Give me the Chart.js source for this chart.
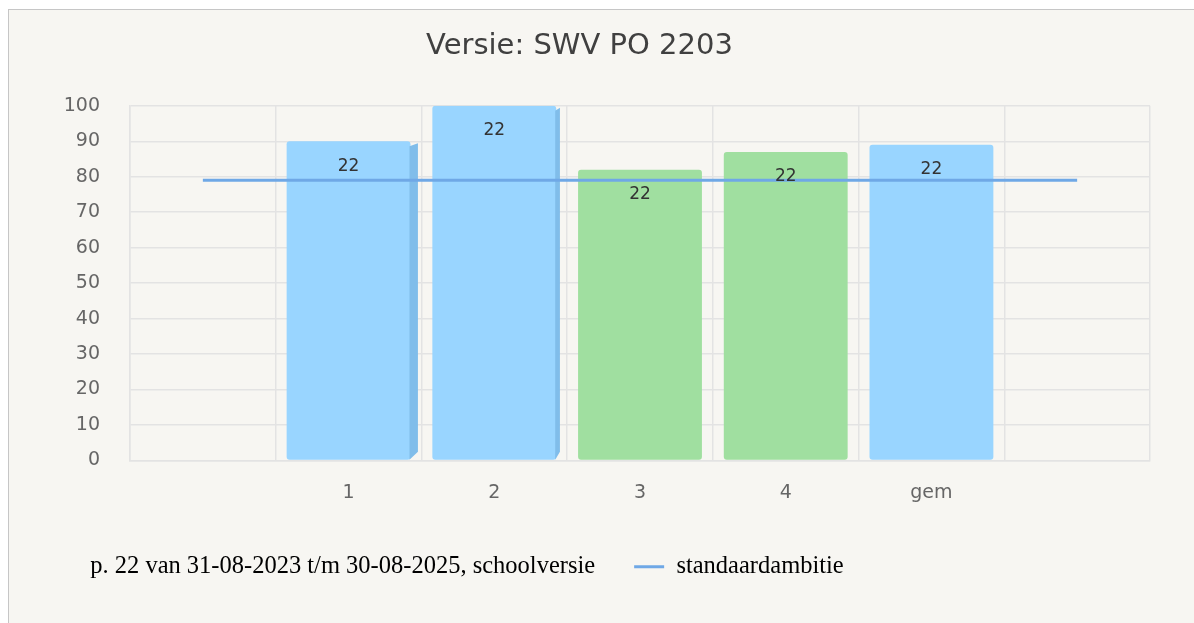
<!DOCTYPE html>
<html>
<head>
<meta charset="utf-8">
<script src="https://cdn.jsdelivr.net/npm/chart.js@4/dist/chart.umd.min.js"></script>
<style>
  html, body { margin: 0; padding: 0; background: #ffffff; }
  #frame {
    position: absolute; left: 8px; top: 9px;
    width: 1186px; height: 614px;
    border-left: 1px solid #c6c6c6; border-top: 1px solid #c6c6c6;
    background: #f7f6f2;
  }
  #wrap { position: absolute; left: 0; top: 0; width: 1185px; height: 613px; }
</style>
</head>
<body>
<div id="frame"><div id="wrap"><canvas id="chart"></canvas></div></div>
<script>
// categories (empty slots left and right, as in the original)
const categories = ['', '1', '2', '3', '4', 'gem', ''];
// bar heights (percentage)
const barValues = [null, 90, 100, 82, 87, 89, null];
// numbers printed inside the bars
const barCounts = [null, 22, 22, 22, 22, 22, null];
// standaardambitie line
const ambitionValues = [79, 79, 79, 79, 79, 79, 79];
const yTicks = [0, 10, 20, 30, 40, 50, 60, 70, 80, 90, 100];

const barLabel = 'p. 22 van 31-08-2023 t/m 30-08-2025, schoolversie';
const lineLabel = 'standaardambitie';

const blue = '#99d5ff';
const blueSide = '#80bdea';
const green = '#a0dfa0';
const lineBlue = '#6fa8e6';

// darker right side for the bars left of the middle (fake 3D)
const sideFaces = {
    id: 'sideFaces',
    afterDatasetDraw(chart, args) {
        if (args.index !== 0) return;
        const ctx = chart.ctx;
        const mid = (chart.chartArea.left + chart.chartArea.right) / 2;
        const half = (chart.chartArea.right - chart.chartArea.left) / 2;
        args.meta.data.forEach((bar, i) => {
            if (barValues[i] == null || bar.x > mid - 60) return;
            const w = (mid - bar.x) / half * 13;
            const r = bar.x + bar.width / 2;
            ctx.save();
            ctx.fillStyle = blueSide;
            ctx.beginPath();
            ctx.moveTo(r - 1, bar.y + 5);
            ctx.lineTo(r + w, bar.y + 2);
            ctx.lineTo(r + w, bar.base - 8);
            ctx.lineTo(r - 1, bar.base);
            ctx.closePath();
            ctx.fill();
            ctx.restore();
        });
    }
};

const countLabels = {
    id: 'countLabels',
    afterDatasetsDraw(chart) {
        const ctx = chart.ctx;
        const meta = chart.getDatasetMeta(0);
        ctx.save();
        ctx.font = '17px "DejaVu Sans"';
        ctx.fillStyle = '#333333';
        ctx.textAlign = 'center';
        ctx.textBaseline = 'middle';
        meta.data.forEach((bar, i) => {
            if (barCounts[i] == null) return;
            ctx.fillText(String(barCounts[i]), bar.x, bar.y + 25);
        });
        ctx.restore();
    }
};

const ctx = document.getElementById('chart').getContext('2d');
new Chart(ctx, {
    data: {
        labels: categories,
        datasets: [
            {
                type: 'bar',
                label: barLabel,
                data: barValues,
                backgroundColor: [blue, blue, blue, green, green, blue, blue],
                borderRadius: 3,
                borderSkipped: false,
                categoryPercentage: 1,
                barPercentage: 0.85,
                order: 2
            },
            {
                type: 'line',
                label: lineLabel,
                data: ambitionValues,
                borderColor: lineBlue,
                borderWidth: 3,
                pointRadius: 0,
                fill: false,
                order: 1
            }
        ]
    },
    options: {
        responsive: true,
        maintainAspectRatio: false,
        animation: false,
        layout: { padding: { left: 0, right: 44, top: 0, bottom: 34 } },
        plugins: {
            title: {
                display: true,
                text: 'Versie: SWV PO 2203',
                color: '#404040',
                font: { family: 'DejaVu Sans', size: 29, weight: 'normal' },
                padding: { top: 19, bottom: 42 }
            },
            legend: {
                position: 'bottom',
                align: 'start',
                labels: {
                    usePointStyle: true,
                    pointStyleWidth: 30,
                    padding: 39,
                    color: '#222222',
                    font: { family: 'Liberation Serif', size: 24.5 },
                    generateLabels: () => [
                        { text: barLabel, pointStyle: 'line', strokeStyle: 'rgba(0,0,0,0)', fillStyle: 'rgba(0,0,0,0)', lineWidth: 0, datasetIndex: 0 },
                        { text: lineLabel, pointStyle: 'line', strokeStyle: lineBlue, fillStyle: lineBlue, lineWidth: 3, datasetIndex: 1 }
                    ]
                }
            },
            tooltip: { enabled: false }
        },
        scales: {
            x: {
                afterFit: (axis) => { axis.height = 55; },
                grid: { color: '#e3e3e3', lineWidth: 1.5, drawTicks: false, offset: true },
                border: { color: '#e3e3e3', width: 1.5 },
                ticks: {
                    color: '#666666',
                    font: { family: 'DejaVu Sans', size: 19 },
                    padding: 21
                }
            },
            y: {
                min: 0,
                max: 100,
                afterBuildTicks: (axis) => { axis.ticks = yTicks.map(v => ({ value: v })); },
                afterFit: (axis) => { axis.width = 121; },
                grid: { color: '#e3e3e3', lineWidth: 1.5, drawTicks: false },
                border: { color: '#e3e3e3', width: 1.5 },
                ticks: {
                    color: '#666666',
                    font: { family: 'DejaVu Sans', size: 19 },
                    padding: 30
                }
            }
        }
    },
    plugins: [sideFaces, countLabels]
});
</script>
</body>
</html>
